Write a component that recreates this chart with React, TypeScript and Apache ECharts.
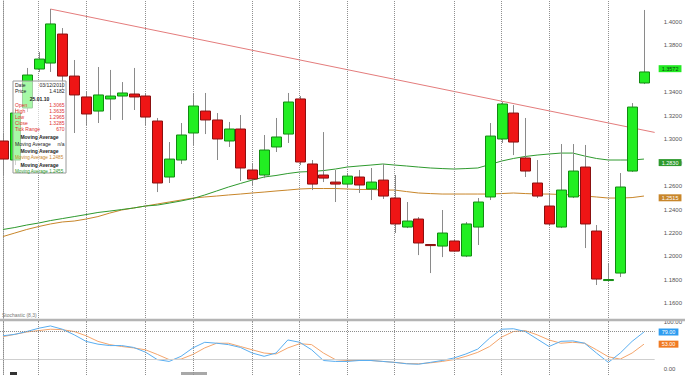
import React, { useEffect, useRef } from "react";
import * as echarts from "echarts";

// ---- data (weekly candles, index 0 = leftmost, partly cut) ----
const opens = [
  1.2984, 1.2822, 1.3265, 1.3597, 1.3648, 1.3895, 1.3537, 1.3359, 1.3239, 1.3342,
  1.3367, 1.3384, 1.3367, 1.3154, 1.2677, 1.2822, 1.3052, 1.3239, 1.3163, 1.2984,
  1.3086, 1.2737, 1.2694, 1.2933, 1.3043, 1.3342, 1.2788, 1.2694, 1.2634, 1.2617,
  1.2677, 1.2575, 1.2651, 1.2498, 1.2251, 1.2319, 1.2102, 1.2089, 1.2132, 1.2004,
  1.2251, 1.2507, 1.3001, 1.3222, 1.2839, 1.2626, 1.243, 1.2251, 1.2507, 1.2762,
  1.2217, 1.1795, 1.1859, 1.2728, 1.3478,
];
const closes = [
  1.283, 1.3222, 1.3546, 1.3682, 1.3981, 1.3537, 1.3376, 1.3214, 1.3376, 1.3367,
  1.3393, 1.3359, 1.3188, 1.2626, 1.283, 1.3035, 1.3282, 1.3163, 1.3001, 1.3086,
  1.2754, 1.266, 1.2907, 1.3018, 1.3316, 1.2805, 1.2617, 1.2668, 1.2617, 1.2685,
  1.2609, 1.2634, 1.2515, 1.2277, 1.2302, 1.2115, 1.2093, 1.22, 1.2046, 1.2277,
  1.2464, 1.3026, 1.3299, 1.2975, 1.2728, 1.2515, 1.2277, 1.2566, 1.2728, 1.2277,
  1.1808, 1.1804, 1.2592, 1.3273, 1.3572,
];
const lows = [
  1.2694, 1.2779, 1.3231, 1.3572, 1.3572, 1.3418, 1.3052, 1.312, 1.3137, 1.3163,
  1.3163, 1.3248, 1.312, 1.2549, 1.2626, 1.2788, 1.295, 1.3043, 1.2822, 1.2933,
  1.2643, 1.2609, 1.2668, 1.289, 1.2967, 1.2779, 1.2566, 1.2634, 1.2464, 1.2592,
  1.2541, 1.2481, 1.249, 1.22, 1.2242, 1.2012, 1.1859, 1.1995, 1.2038, 1.1995,
  1.2098, 1.2481, 1.2967, 1.2864, 1.2677, 1.2498, 1.226, 1.2242, 1.2498, 1.2072,
  1.1757, 1.1782, 1.1825, 1.272, 1.3469,
];
const highs = [
  1.3052, 1.3265, 1.3606, 1.3742, 1.4108, 1.3946, 1.3674, 1.3401, 1.3614, 1.3589,
  1.3486, 1.3606, 1.3384, 1.318, 1.2975, 1.3137, 1.3393, 1.3393, 1.3222, 1.3146,
  1.3205, 1.2796, 1.3035, 1.318, 1.3393, 1.3367, 1.2822, 1.306, 1.2737, 1.2711,
  1.2737, 1.2754, 1.2788, 1.2694, 1.2464, 1.2336, 1.2106, 1.2396, 1.214, 1.2294,
  1.2498, 1.3137, 1.3316, 1.329, 1.318, 1.2822, 1.2541, 1.2958, 1.2958, 1.295,
  1.2268, 1.1944, 1.2711, 1.3307, 1.41,
];
const maGreen = [
  1.223, 1.2247, 1.2268, 1.2285, 1.2306, 1.2323, 1.234, 1.2357, 1.2375, 1.2387,
  1.24, 1.2413, 1.243, 1.2438, 1.2455, 1.2473, 1.2494, 1.2524, 1.2558, 1.2592,
  1.2622, 1.2651, 1.2677, 1.269, 1.2707, 1.272, 1.2724, 1.2732, 1.2745, 1.2762,
  1.2771, 1.2779, 1.2788, 1.2779, 1.2771, 1.2762, 1.2754, 1.2749, 1.2745, 1.2749,
  1.2754, 1.2783, 1.2813, 1.2835, 1.2852, 1.2864, 1.2873, 1.2881, 1.2881, 1.2856,
  1.2835, 1.2822, 1.2822, 1.2822, 1.283,
];
const maOrange = [
  1.217, 1.22, 1.223, 1.2255, 1.2277, 1.2294, 1.2302, 1.2319, 1.234, 1.237,
  1.2396, 1.2413, 1.243, 1.2447, 1.2464, 1.2481, 1.2498, 1.2507, 1.2515, 1.2524,
  1.2532, 1.2541, 1.2549, 1.2558, 1.2566, 1.2575, 1.2579, 1.2579, 1.2579, 1.2575,
  1.2571, 1.2571, 1.2566, 1.2566, 1.2553, 1.2541, 1.2536, 1.2532, 1.2532, 1.2532,
  1.2532, 1.2532, 1.2536, 1.2541, 1.2536, 1.2532, 1.2532, 1.2528, 1.2524, 1.2515,
  1.2507, 1.2498, 1.2498, 1.2502, 1.2515,
];
const stochK = [
  71, 74, 80, 87, 92, 85, 73, 59, 53, 50,
  50, 46, 36, 20, 16, 27, 45, 57, 55, 52,
  46, 34, 27, 34, 62, 57, 41, 18, 16, 16,
  18, 18, 16, 14, 11, 10, 14, 18, 23.5, 32,
  42.5, 66, 85, 86, 80, 64, 48, 59, 60, 55,
  34, 14, 34, 59, 79,
];
const stochD = [
  69, 74, 79, 82, 85, 84, 80, 71, 59, 52,
  48, 45, 41, 31, 20, 21, 31, 45, 55, 55,
  48, 41, 34, 32, 45, 54, 52, 34, 20, 18,
  18, 18, 16, 14, 11.5, 11, 13, 16, 20, 27,
  35.5, 48, 68, 80, 82, 73, 62, 55, 57, 55,
  41, 26, 21, 34, 53,
];
const monthStarts = [3, 7, 12, 16, 21, 25, 29, 33, 38, 42, 46, 51];
// 1.3600 sits under the last-price tag in the reference
const priceTicks = [1.16, 1.18, 1.2, 1.22, 1.24, 1.26, 1.28, 1.3, 1.32, 1.34, 1.38, 1.4];
const stochTicks = [0, 100];
const stochLevels = [80, 20];
const trendLine = [
  [4, 1.4108],
  [54.9, 1.3057],
];
const infoRows = [
  { label: "Date", value: "03/12/2010", color: "#222" },
  { label: "Price", value: "1.4182", color: "#222" },
  { label: "Open", value: "1.3065", color: "#e03030" },
  { label: "High", value: "1.3635", color: "#e03030" },
  { label: "Low", value: "1.2965", color: "#e03030" },
  { label: "Close", value: "1.3285", color: "#e03030" },
  { label: "Tick Range", value: "670", color: "#e03030" },
];
const infoDate = "25.01.10";
const infoMA = [
  { title: "Moving Average", label: "Moving Average", value: "n/a", color: "#222", inline: false },
  { title: "Moving Average", label: "Moving Average", value: "1.2485", color: "#c8862a", inline: true },
  { title: "Moving Average", label: "Moving Average", value: "1.2455", color: "#2e9a2e", inline: true },
];

const FONT = 'Arial, "Liberation Sans", sans-serif';

function txt(x: number, y: number, text: string, fill: string, align = "left", bold = false, size = 5) {
  return {
    type: "text",
    x,
    y,
    silent: true,
    z: 100,
    style: {
      text,
      fill,
      fontSize: size,
      fontFamily: FONT,
      fontWeight: bold ? "bold" : "normal",
      align,
      textAlign: align,
      verticalAlign: "middle",
      textVerticalAlign: "middle",
    },
  };
}

function tag(value: number, text: string, bg: string, color: string) {
  return {
    yAxis: value,
    lineStyle: { color: "rgba(0,0,0,0)", width: 0 },
    label: {
      show: true,
      position: "end",
      distance: 4,
      formatter: text,
      backgroundColor: bg,
      color,
      opacity: 1,
      fontSize: 5.5,
      fontFamily: FONT,
      padding: [1, 3, 0, 3],
    },
  };
}

export default function App() {
  const ref = useRef<HTMLDivElement>(null);

  useEffect(() => {
    if (!ref.current) return;
    const chart = echarts.init(ref.current, undefined, { renderer: "svg" });

    const candleData = opens.map((o, i) => [i, o, closes[i], lows[i], highs[i]]);
    const vLines = monthStarts.map((m) => ({
      xAxis: m,
      lineStyle: { color: "#8f8f8f", type: "dotted", width: 1 },
      label: { show: false },
    }));

    const graphics: any[] = [
      {
        type: "line",
        shape: { x1: 0, y1: 320, x2: 685, y2: 320 },
        style: { stroke: "#b4b4b4", lineWidth: 2.5 },
        silent: true,
        z: 50,
      },
      txt(2, 315, "Stochastic (8,3)", "#777", "left", false, 5),
      {
        type: "rect",
        shape: { x: 13, y: 81, width: 53, height: 92 },
        style: { fill: "rgba(255,255,255,0.6)", stroke: "#9a9a9a", lineWidth: 1 },
        silent: true,
        z: 90,
      },
      { type: "rect", shape: { x: 10, y: 372, width: 7, height: 3 }, style: { fill: "#333" }, silent: true },
      { type: "rect", shape: { x: 181, y: 372, width: 26, height: 3 }, style: { fill: "#a8a8a8" }, silent: true },
    ];
    const rowY = [84.5, 90.5, 105, 111, 117, 123, 129];
    infoRows.slice(0, 2).forEach((r, k) => {
      graphics.push(txt(15, rowY[k], r.label, r.color));
      graphics.push(txt(64.5, rowY[k], r.value, r.color, "right"));
    });
    graphics.push(txt(39.5, 98.5, infoDate, "#222", "center", true));
    infoRows.slice(2).forEach((r, k) => {
      graphics.push(txt(15, rowY[k + 2], r.label, r.color));
      graphics.push(txt(64.5, rowY[k + 2], r.value, r.color, "right"));
    });
    const maY = [137, 151, 164.5];
    infoMA.forEach((m, k) => {
      graphics.push(txt(39.5, maY[k], m.title, "#222", "center", true));
      if (m.inline) {
        graphics.push(txt(15, maY[k] + 6.5, `${m.label} ${m.value}`, m.color, "left", false, 4.6));
      } else {
        graphics.push(txt(15, maY[k] + 6.5, m.label, m.color));
        graphics.push(txt(64.5, maY[k] + 6.5, m.value, m.color, "right"));
      }
    });

    const last = closes.length - 1;

    const option: any = {
      animation: false,
      backgroundColor: "#ffffff",
      textStyle: { fontFamily: FONT },
      grid: [
        { left: 0, right: 27, top: 0, height: 322 },
        { left: 0, right: 27, top: 322.2, height: 53.3 },
      ],
      xAxis: [
        { type: "value", gridIndex: 0, min: -0.25, max: 54.9, show: false },
        { type: "value", gridIndex: 1, min: -0.25, max: 54.9, show: false },
      ],
      yAxis: [
        {
          type: "value",
          gridIndex: 0,
          position: "right",
          min: 1.1442,
          max: 1.4185,
          axisLine: { show: true, lineStyle: { color: "#8c8c8c", type: "dotted" } },
          axisTick: { show: false },
          splitLine: { show: false },
          axisLabel: {
            customValues: priceTicks,
            formatter: (v: number) => v.toFixed(4),
            fontSize: 6,
            color: "#555",
            margin: 9,
            fontFamily: FONT,
          },
        },
        {
          type: "value",
          gridIndex: 1,
          position: "right",
          min: -13,
          max: 100,
          axisLine: { show: true, lineStyle: { color: "#8c8c8c", type: "dotted" } },
          axisTick: { show: false },
          splitLine: { show: false },
          axisLabel: {
            customValues: stochTicks,
            formatter: (v: number) => v.toFixed(2),
            fontSize: 6,
            color: "#555",
            margin: 9,
            fontFamily: FONT,
          },
        },
      ],
      graphic: graphics,
      series: [
        {
          name: "Trend",
          type: "line",
          xAxisIndex: 0,
          yAxisIndex: 0,
          data: trendLine,
          symbol: "none",
          silent: true,
          lineStyle: { color: "#e47c7c", width: 1 },
          z: 2,
        },
        {
          name: "MA slow",
          type: "line",
          xAxisIndex: 0,
          yAxisIndex: 0,
          data: maOrange.map((v, i) => [i, v]),
          symbol: "none",
          silent: true,
          lineStyle: { color: "#c8862a", width: 1 },
          z: 3,
          markLine: {
            silent: true,
            symbol: ["none", "none"],
            animation: false,
            data: [tag(maOrange[last], maOrange[last].toFixed(4), "#c8862a", "#fff")],
          },
        },
        {
          name: "MA fast",
          type: "line",
          xAxisIndex: 0,
          yAxisIndex: 0,
          data: maGreen.map((v, i) => [i, v]),
          symbol: "none",
          silent: true,
          lineStyle: { color: "#2e9a2e", width: 1 },
          z: 3,
          markLine: {
            silent: true,
            symbol: ["none", "none"],
            animation: false,
            data: [
              ...vLines,
              tag(maGreen[last], maGreen[last].toFixed(4), "#2e9a2e", "#fff"),
              tag(closes[last], closes[last].toFixed(4), "#22ea22", "#0d3d0d"),
            ],
          },
        },
        {
          name: "Price",
          type: "custom",
          xAxisIndex: 0,
          yAxisIndex: 0,
          clip: true,
          z: 5,
          data: candleData,
          encode: { x: 0, y: [1, 2, 3, 4] },
          renderItem: (params: any, api: any) => {
            const i = api.value(0);
            const o = api.value(1);
            const c = api.value(2);
            const l = api.value(3);
            const h = api.value(4);
            const pO = api.coord([i, o]);
            const pC = api.coord([i, c]);
            const pL = api.coord([i, l]);
            const pH = api.coord([i, h]);
            const w = api.size([1, 0])[0] * 0.84;
            const up = c >= o;
            const top = Math.min(pO[1], pC[1]);
            const hgt = Math.max(Math.abs(pO[1] - pC[1]), 1);
            const cx = Math.round(pO[0]) + 0.5;
            return {
              type: "group",
              children: [
                {
                  type: "line",
                  shape: { x1: cx, y1: pH[1], x2: cx, y2: pL[1] },
                  style: { stroke: "#8a8a8a", lineWidth: 1 },
                },
                {
                  type: "rect",
                  shape: { x: cx - w / 2, y: top, width: w, height: hgt },
                  style: {
                    fill: up ? "#22ee22" : "#ee1515",
                    stroke: up ? "#128a12" : "#8a1010",
                    lineWidth: 1,
                  },
                },
              ],
            };
          },
        },
        {
          name: "%D",
          type: "line",
          xAxisIndex: 1,
          yAxisIndex: 1,
          data: stochD.map((v, i) => [i, v]),
          symbol: "none",
          silent: true,
          lineStyle: { color: "#f4a56c", width: 1 },
          z: 3,
          markLine: {
            silent: true,
            symbol: ["none", "none"],
            animation: false,
            data: [
              ...vLines,
              {
                yAxis: stochLevels[0],
                lineStyle: { color: "#8c8c8c", type: "dotted", width: 1 },
                label: { show: false },
              },
              {
                yAxis: stochLevels[1],
                lineStyle: { color: "#cfcfcf", type: "solid", width: 1 },
                label: { show: false },
              },
              tag(stochD[last], stochD[last].toFixed(2), "#f07a22", "#fff"),
            ],
          },
        },
        {
          name: "%K",
          type: "line",
          xAxisIndex: 1,
          yAxisIndex: 1,
          data: stochK.map((v, i) => [i, v]),
          symbol: "none",
          silent: true,
          lineStyle: { color: "#5aaef0", width: 1 },
          z: 4,
          markLine: {
            silent: true,
            symbol: ["none", "none"],
            animation: false,
            data: [tag(stochK[last], stochK[last].toFixed(2), "#2d9cf0", "#fff")],
          },
        },
      ],
    };

    chart.setOption(option);
    return () => chart.dispose();
  }, []);

  return (
    <div
      ref={ref}
      style={{ position: "fixed", left: 0, top: 0, width: 685, height: 375, background: "#fff" }}
    />
  );
}
